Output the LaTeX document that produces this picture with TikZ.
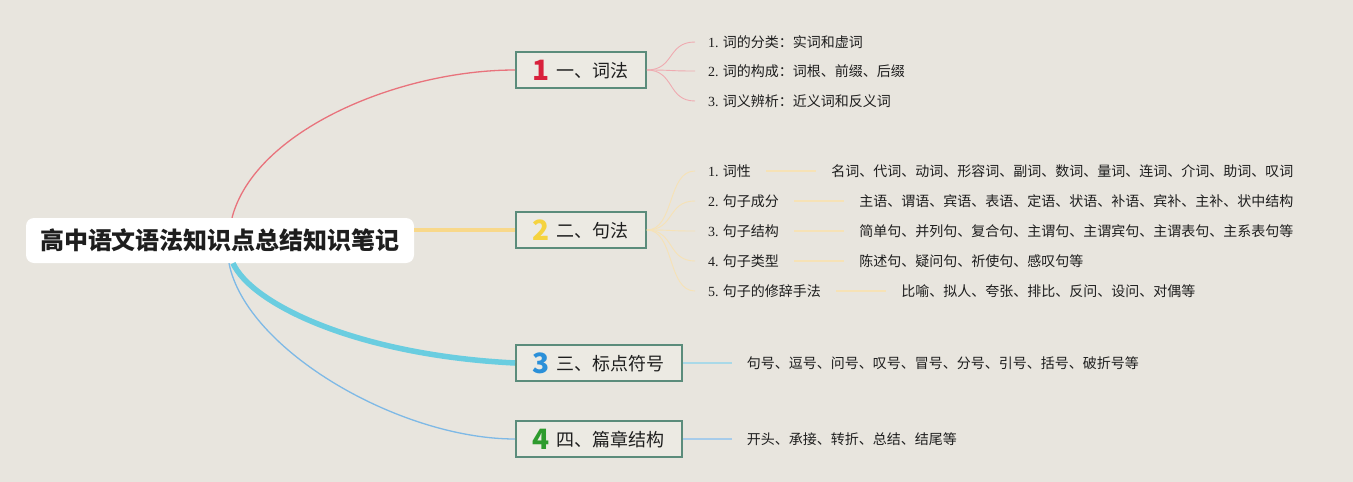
\documentclass[tikz,border=0pt]{standalone}
\usepackage{fontspec}
\setmainfont{Noto Sans CJK SC}
\newfontfamily\numfont{Liberation Serif}
\usepackage{xcolor}
\usetikzlibrary{positioning}
\definecolor{paper}{HTML}{E8E5DE}
\definecolor{darktext}{HTML}{1E1E1E}
\definecolor{boxline}{HTML}{5B8C7B}
\definecolor{boxfill}{HTML}{ECEAE3}
\definecolor{numred}{HTML}{D9213C}
\definecolor{numyellow}{HTML}{F5D33F}
\definecolor{numblue}{HTML}{2B90D9}
\definecolor{numgreen}{HTML}{2E9B2E}
\definecolor{redline}{HTML}{E8737C}
\definecolor{pinkline}{HTML}{EFAAB0}
\definecolor{yellowline}{HTML}{F8D88A}
\definecolor{paleyellow}{HTML}{F6E2B6}
\definecolor{cyanline}{HTML}{6ACDE0}
\definecolor{palecyan}{HTML}{A9D9E8}
\definecolor{blueline}{HTML}{7EB9E6}
\definecolor{paleblue}{HTML}{A7CCEA}

\newcommand{\topicnum}[2]{\raisebox{-3pt}{\fontsize{28}{28}\selectfont\bfseries\color{#1}#2}\hspace{7pt}}

\begin{document}
\begin{tikzpicture}[x=1pt, y=-1pt,
    rootbox/.style={rounded corners=8pt, fill=white, minimum width=388pt, minimum height=45pt,
        inner sep=0pt, text=darktext, font=\fontsize{24}{28}\selectfont\bfseries},
    topic/.style={draw=boxline, line width=1.7pt, fill=boxfill, anchor=west, minimum height=36pt,
        inner xsep=17pt, inner ysep=0pt, text=darktext, font=\fontsize{18}{20}\selectfont},
    leaf/.style={anchor=west, inner sep=0pt, text=darktext, font=\fontsize{14}{16}\selectfont},
    twig/.style={line width=0.9pt}
  ]
  \useasboundingbox (0,0) rectangle (1353,482);
  \fill[paper] (0,0) rectangle (1353,482);

  \node[rootbox] (root) at (220,240.5) {高中语文语法知识点总结知识笔记};

  \node[topic] (t1) at (515,70) {\topicnum{numred}{1}一、词法};
  \node[topic] (t2) at (515,230) {\topicnum{numyellow}{2}二、句法};
  \node[topic] (t3) at (515,363) {\topicnum{numblue}{3}三、标点符号};
  \node[topic] (t4) at (515,439) {\topicnum{numgreen}{4}四、篇章结构};

  \draw[redline, line width=1.3pt] ([xshift=12pt]root.north) .. controls +(23,-88) and +(-115,0) .. (t1.west);
  \draw[yellowline, line width=4.5pt] (root.east |- t2.west) -- (t2.west);
  \draw[cyanline, line width=5.5pt] ([xshift=13pt]root.south) .. controls +(18,40) and +(-160,-8) .. (t3.west);
  \draw[blueline, line width=1.3pt] ([xshift=9pt]root.south) .. controls +(17,87) and +(-115,0) .. (t4.west);

  % 词法
  \node[leaf] (a1) at (708,42) {{\numfont 1.} 词的分类：实词和虚词};
  \node[leaf] (a2) at (708,71) {{\numfont 2.} 词的构成：词根、前缀、后缀};
  \node[leaf] (a3) at (708,101) {{\numfont 3.} 词义辨析：近义词和反义词};
  \foreach \n in {1,2,3}
    \draw[pinkline, twig] (t1.east) .. controls +(28,0) and +(-28,0) .. ([xshift=-13pt]a\n.west);

  % 句法
  \node[leaf] (b1) at (708,171) {{\numfont 1.} 词性};
  \node[leaf] (b2) at (708,201) {{\numfont 2.} 句子成分};
  \node[leaf] (b3) at (708,231) {{\numfont 3.} 句子结构};
  \node[leaf] (b4) at (708,261) {{\numfont 4.} 句子类型};
  \node[leaf] (b5) at (708,291) {{\numfont 5.} 句子的修辞手法};
  \node[leaf, right=80pt of b1] (c1) {名词、代词、动词、形容词、副词、数词、量词、连词、介词、助词、叹词};
  \node[leaf, right=80pt of b2] (c2) {主语、谓语、宾语、表语、定语、状语、补语、宾补、主补、状中结构};
  \node[leaf, right=80pt of b3] (c3) {简单句、并列句、复合句、主谓句、主谓宾句、主谓表句、主系表句等};
  \node[leaf, right=80pt of b4] (c4) {陈述句、疑问句、祈使句、感叹句等};
  \node[leaf, right=80pt of b5] (c5) {比喻、拟人、夸张、排比、反问、设问、对偶等};
  \foreach \n in {1,...,5} {
    \draw[paleyellow, twig] (t2.east) .. controls +(28,0) and +(-28,0) .. ([xshift=-13pt]b\n.west);
    \draw[paleyellow, line width=1.5pt, shorten <=15pt, shorten >=15pt] (b\n.east) -- (c\n.west);
  }

  % 标点符号, 篇章结构
  \node[leaf, right=64pt of t3] (c6) {句号、逗号、问号、叹号、冒号、分号、引号、括号、破折号等};
  \node[leaf, right=64pt of t4] (c7) {开头、承接、转折、总结、结尾等};
  \draw[palecyan, line width=1.5pt, shorten >=15pt] (t3.east) -- (c6.west);
  \draw[paleblue, line width=1.5pt, shorten >=15pt] (t4.east) -- (c7.west);
\end{tikzpicture}
\end{document}
